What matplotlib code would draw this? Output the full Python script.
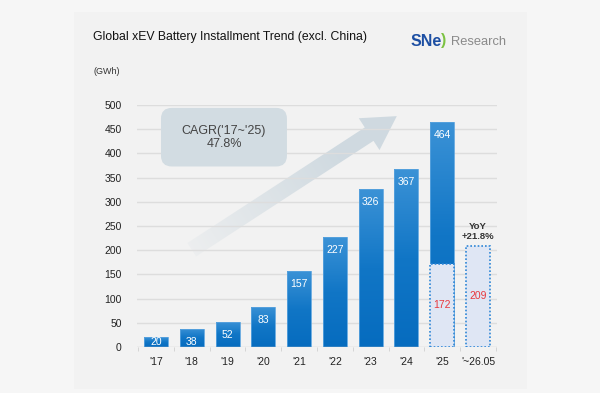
import matplotlib.pyplot as plt
import numpy as np
from matplotlib.patches import FancyBboxPatch, Rectangle, FancyArrow
from matplotlib.colors import LinearSegmentedColormap, to_rgb

# data (GWh)
years = ["'17", "'18", "'19", "'20", "'21", "'22", "'23", "'24", "'25", "'~26.05"]
installed = [20, 38, 52, 83, 157, 227, 326, 367, 464]
ytd_years = ["'25", "'~26.05"]
ytd_values = [172, 209]
cagr_text = "CAGR('17~'25)\n47.8%"
yoy_text = "YoY\n+21.8%"

plt.rcParams['font.family'] = ['Liberation Sans', 'DejaVu Sans']

W, H = 600, 393
fig = plt.figure(figsize=(W / 100, H / 100), dpi=100, facecolor='#f6f6f6')

# light panel behind chart
fig.patches.append(Rectangle((74/W, 1-389/H), (527-74)/W, (389-12)/H,
                             transform=fig.transFigure, fc='#f2f2f2', ec='none', zorder=-1))

ax = fig.add_axes([137/W, 1-347/H, 360/W, 242/H], zorder=1)
ax.set_facecolor('none')

x = np.arange(len(years))
w = 0.67
xlim = (-0.53, len(years) - 0.47)
ylim = (0, 500)

# gridlines
for v in range(50, 501, 50):
    ax.axhline(v, color='#dddddd', lw=1, zorder=0)
ax.axhline(0, color='#d0d0d0', lw=1, zorder=3)

# gradient blue bars
cmap = LinearSegmentedColormap.from_list('bar', ['#3b92d6', '#1176c6', '#066cbf'])
grad = np.linspace(0, 1, 100).reshape(-1, 1)
bars = ax.bar(x[:len(installed)], installed, width=w, fc='none', ec='#5aa3de', lw=0.6, zorder=3)
for b, v in zip(bars, installed):
    im = ax.imshow(grad, extent=[b.get_x(), b.get_x() + w, 0, v], aspect='auto',
                   cmap=cmap, zorder=2)
    im.set_clip_path(b)

# year-to-date (Jan-May) bars
ytd_x = [years.index(y) for y in ytd_years]
ax.bar(ytd_x, ytd_values, width=w, fc='#dfe6f4', ec='#2f86d6', lw=1.2,
       linestyle=(0, (1, 1.2)), zorder=4)

# labels
for xi, v in zip(x, installed):
    ax.text(xi, max(v - 27, 10), str(v), ha='center', va='center', color='white',
            fontsize=7.5, zorder=5)
for xi, v in zip(ytd_x, ytd_values):
    ax.text(xi, v / 2, str(v), ha='center', va='center', color='#e8383d',
            fontsize=7.5, zorder=5)
ax.text(ytd_x[-1], v + 30, yoy_text, ha='center', va='center', color='#333333',
        fontsize=6.8, fontweight='bold', linespacing=1.2, zorder=5)

ax.set_xlim(*xlim)
ax.set_ylim(*ylim)

# CAGR box
px_x = 360 / (xlim[1] - xlim[0])
px_y = 242 / (ylim[1] - ylim[0])
ax.add_patch(FancyBboxPatch((0.14, 373), 3.52, 121,
                            boxstyle='round,pad=0,rounding_size=0.3',
                            mutation_aspect=px_x / px_y,
                            fc='#d2dce2', ec='none', zorder=1))
ax.text(1.9, 433, cagr_text, ha='center', va='center', color='#444444',
        fontsize=9, linespacing=1.15, zorder=2)

# growth arrow (fading tail) on a pixel-space overlay under the bars
ov = fig.add_axes([0, 0, 1, 1], zorder=0.5)
ov.set_xlim(0, W)
ov.set_ylim(0, H)
ov.axis('off')
(x0, y0), (x1, y1) = ax.transData.transform([(1.0, 201), (6.73, 477)])
arrow = FancyArrow(x0, y0, x1 - x0, y1 - y0, width=16, head_width=38, head_length=33,
                   length_includes_head=True, fc='none', ec='none')
ov.add_patch(arrow)
gx, gy = np.meshgrid(np.arange(W) + 0.5, np.arange(H) + 0.5)
t = ((gx - x0) * (x1 - x0) + (gy - y0) * (y1 - y0)) / ((x1 - x0) ** 2 + (y1 - y0) ** 2)
rgba = np.zeros((H, W, 4))
rgba[..., :3] = to_rgb('#cdd8df')
rgba[..., 3] = np.clip(0.15 + 0.85 * t * 1.3, 0, 0.95)
im = ov.imshow(rgba, extent=[0, W, 0, H], origin='lower', aspect='auto')
im.set_clip_path(arrow)

# axes styling
ax.set_yticks(range(0, 501, 50))
ax.set_xticks(x)
ax.set_xticklabels(years)
ax.set_xticks(np.arange(len(years) + 1) - 0.5, minor=True)
ax.tick_params(axis='y', length=0, pad=11, labelsize=7.5, labelcolor='#222222')
ax.tick_params(axis='x', which='major', length=0, pad=7, labelsize=7.5, labelcolor='#222222')
ax.tick_params(axis='x', which='minor', length=3, color='#d0d0d0')
for s in ax.spines.values():
    s.set_visible(False)

# title, unit, logo
fig.text(93/W, 1-37/H, 'Global xEV Battery Installment Trend (excl. China)',
         ha='left', va='center', fontsize=8.8, color='#111111')
fig.text(93/W, 1-72/H, '(GWh)', ha='left', va='center', fontsize=6.5, color='#333333')
fig.text(411/W, 1-42/H, 'SNe', ha='left', va='center', fontsize=11.5,
         fontweight='bold', color='#1d4fa3')
fig.text(441/W, 1-41/H, ')', ha='left', va='center', fontsize=11.5,
         fontweight='bold', color='#7cc242')
fig.text(451/W, 1-42/H, 'Research', ha='left', va='center', fontsize=9.3, color='#8a8a8a')

fig.savefig('out.png', dpi=100, facecolor=fig.get_facecolor())
